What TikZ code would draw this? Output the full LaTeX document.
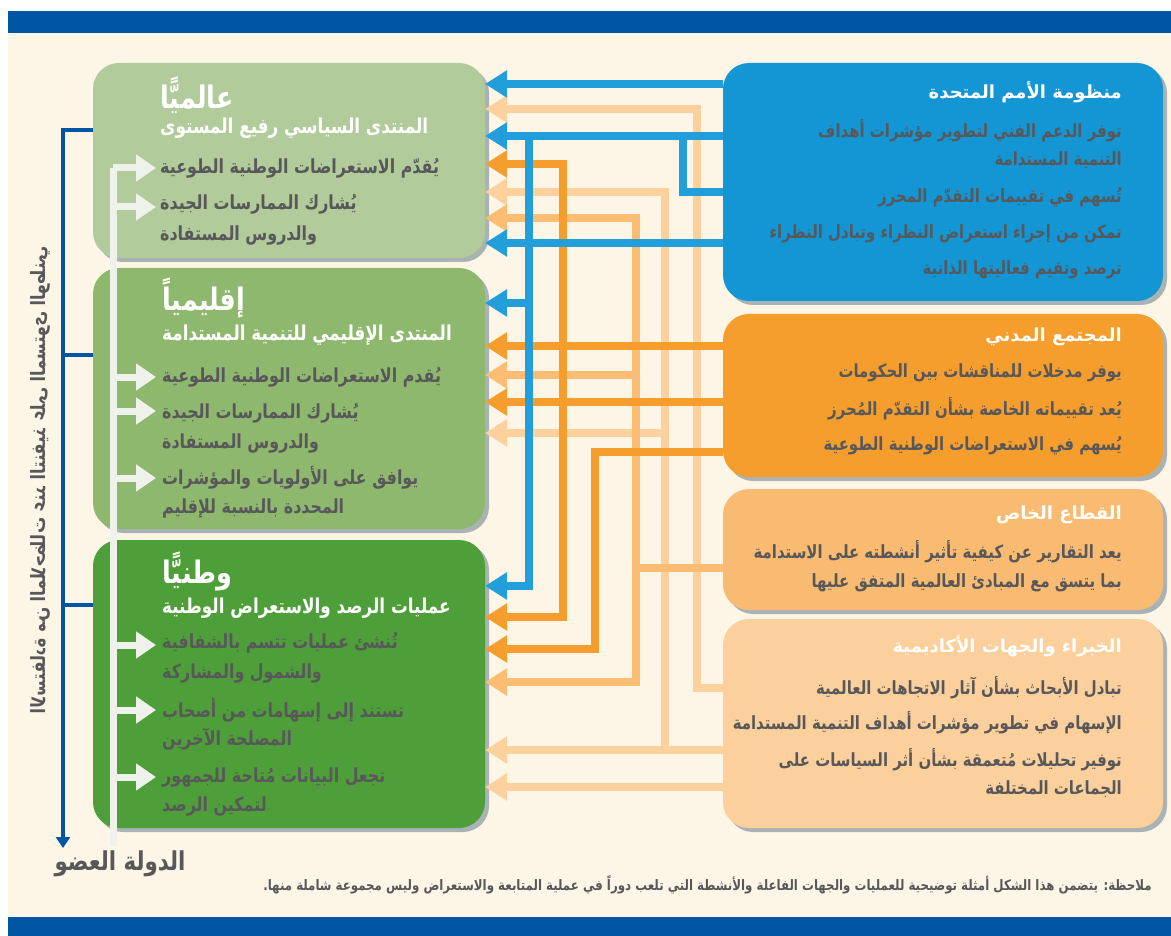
\documentclass[tikz,border=0pt]{standalone}
\usepackage{fontspec}
\usetikzlibrary{arrows.meta,shadows}
\TeXXeTstate=1
\newfontfamily\arf[Script=Arabic,FakeStretch=0.82]{DejaVu Sans}
\newfontfamily\arw[Script=Arabic]{DejaVu Sans}
\newcommand\RL[1]{\beginR#1\endR}
\definecolor{cream}{HTML}{FDF6E6}
\definecolor{darkblue}{HTML}{0055A5}
\definecolor{gA}{HTML}{B1CB9B}
\definecolor{gB}{HTML}{8FB86F}
\definecolor{gC}{HTML}{4E9F39}
\definecolor{unblue}{HTML}{1396D3}
\definecolor{blueline}{HTML}{229FDB}
\definecolor{orng}{HTML}{F59E2E}
\definecolor{mpch}{HTML}{FBBC73}
\definecolor{lpch}{HTML}{FDD19D}
\definecolor{psbox}{HTML}{F9BB71}
\definecolor{exbox}{HTML}{FCD09C}
\definecolor{shgray}{HTML}{A9B3B5}
\definecolor{txt}{HTML}{58585A}
\definecolor{wline}{HTML}{EEF2EA}
\tikzset{
  shd/.style={drop shadow={shadow xshift=4pt,shadow yshift=-4pt,opacity=1,fill=shgray}},
  lbox/.style={shd,rounded corners=26pt,minimum width=392pt,anchor=north west,inner sep=0pt,outer sep=0pt},
  rbox/.style={shd,rounded corners=26pt,minimum width=440pt,anchor=north west,inner sep=0pt,outer sep=0pt},
  ltitle/.style={font=\arf\bfseries\fontsize{31}{35}\selectfont,text=white,anchor=west,inner sep=0pt},
  lsub/.style={font=\arf\bfseries\fontsize{20.5}{24}\selectfont,text=white,anchor=west,inner sep=0pt},
  litem/.style={font=\arf\bfseries\fontsize{19.4}{22}\selectfont,text=txt,anchor=west,inner sep=0pt},
  rtitle/.style={font=\arw\bfseries\fontsize{18}{21}\selectfont,text=white,anchor=east,inner sep=0pt},
  ritem/.style={font=\arf\bfseries\fontsize{18.2}{21}\selectfont,text=txt,anchor=east,inner sep=0pt},
  conn/.style={line width=8pt,-{Triangle[length=22pt,width=26pt]}},
  plain/.style={line width=8pt},
  warr/.style={wline,line width=7pt,-{Triangle[length=20pt,width=26pt]}},
  bracket/.style={darkblue,line width=4pt},
}
\begin{document}
\begin{tikzpicture}[x=1pt,y=-1pt]
\useasboundingbox (0,0) rectangle (1171,936);
\fill[white] (0,0) rectangle (1171,936);
\fill[cream] (8,33) rectangle (1171,917);
\fill[darkblue] (8,11) rectangle (1171,33);
\fill[darkblue] (8,917) rectangle (1171,936);

% left boxes
\node[lbox,fill=gA,minimum height=195pt] (glob) at (93,63) {};
\node[lbox,fill=gB,minimum height=261pt] (reg) at (93,268) {};
\node[lbox,fill=gC,minimum height=288pt] (nat) at (93,540) {};

% right boxes
\node[rbox,fill=unblue,minimum height=238pt] (un) at (723,63) {};
\node[rbox,fill=orng,minimum height=163pt] (cs) at (723,314) {};
\node[rbox,fill=psbox,minimum height=121pt] (ps) at (723,489) {};
\node[rbox,fill=exbox,minimum height=209pt] (ex) at (723,619) {};

% junction coordinates
\coordinate (jL1) at (665,750);
\coordinate (jL2) at (665,433);
\coordinate (jM1) at (636,568);
\coordinate (jM2) at (636,375);
\coordinate (jB1) at (683,136);
\coordinate (jB2) at (529,136);
\coordinate (jB3) at (529,303);

% light peach
\draw[conn,lpch] (ex.west |- 0,688) -| (697,109) -- (glob.east |- 0,109);
\draw[conn,lpch] (ex.west |- 0,750) -- (nat.east |- 0,750);
\draw[conn,lpch] (jL1) |- (glob.east |- 0,192);
\draw[conn,lpch] (jL2) -- (reg.east |- 0,433);
\draw[conn,lpch] (ex.west |- 0,787) -- (nat.east |- 0,787);
% medium peach
\draw[conn,mpch] (ps.west |- 0,568) -| (636,682) -- (nat.east |- 0,682);
\draw[conn,mpch] (jM1) |- (glob.east |- 0,218);
\draw[conn,mpch] (jM2) -- (reg.east |- 0,375);
% orange
\draw[conn,orng] (cs.west |- 0,346) -- (reg.east |- 0,346);
\draw[conn,orng] (cs.west |- 0,402) -- (reg.east |- 0,402);
\draw[conn,orng] (cs.west |- 0,452) -| (595,649) -- (nat.east |- 0,649);
\draw[orng,line width=8pt,{Triangle[length=22pt,width=26pt]}-{Triangle[length=22pt,width=26pt]}] (glob.east |- 0,164) -| (563,617) -- (nat.east |- 0,617);
% blue
\draw[conn,blueline] (un.west |- 0,84) -- (glob.east |- 0,84);
\draw[conn,blueline] (un.west |- 0,136) -- (glob.east |- 0,136);
\draw[plain,blueline] (un.west |- 0,192) -| (jB1);
\draw[conn,blueline] (jB2) |- (nat.east |- 0,586);
\draw[conn,blueline] (jB3) -- (reg.east |- 0,303);
\draw[conn,blueline] (un.west |- 0,243) -- (glob.east |- 0,243);

% dark blue bracket
\draw[bracket,-{Triangle[length=11pt,width=14pt]}] (glob.west |- 0,130) -| (63,848);
\draw[bracket] (63,355) -- (reg.west |- 0,355);
\draw[bracket] (63,605) -- (nat.west |- 0,605);

% white arrows
\coordinate (wtop) at (113,168);
\coordinate (wbot) at (113,846);
\draw[wline,line width=7pt] (wtop) -- (wbot);
\foreach \yy in {168,207,377,411,478,645,710,777}
  \draw[warr] (113,\yy) -- (156,\yy);

% texts left
\node[ltitle] (gT) at (160,95) {\RL{عالميًّا}};
\node[lsub] (gS) at (160,128) {\RL{المنتدى السياسي رفيع المستوى}};
\node[litem] (g1) at (160,168) {\RL{يُقدّم الاستعراضات الوطنية الطوعية}};
\node[litem] (g2a) at (160,204) {\RL{يُشارك الممارسات الجيدة}};
\node[litem] (g2b) at (160,235) {\RL{والدروس المستفادة}};

\node[ltitle] (rT) at (162,298) {\RL{إقليمياً}};
\node[lsub] (rS) at (162,335) {\RL{المنتدى الإقليمي للتنمية المستدامة}};
\node[litem] (r1) at (162,377) {\RL{يُقدم الاستعراضات الوطنية الطوعية}};
\node[litem] (r2a) at (162,413) {\RL{يُشارك الممارسات الجيدة}};
\node[litem] (r2b) at (162,443) {\RL{والدروس المستفادة}};
\node[litem] (r3a) at (162,478) {\RL{يوافق على الأولويات والمؤشرات}};
\node[litem] (r3b) at (162,508) {\RL{المحددة بالنسبة للإقليم}};

\node[ltitle] (nT) at (162,571) {\RL{وطنيًّا}};
\node[lsub] (nS) at (162,608) {\RL{عمليات الرصد والاستعراض الوطنية}};
\node[litem] (n1a) at (162,643) {\RL{تُنشئ عمليات تتسم بالشفافية}};
\node[litem] (n1b) at (162,673) {\RL{والشمول والمشاركة}};
\node[litem] (n2a) at (162,710) {\RL{تستند إلى إسهامات من أصحاب}};
\node[litem] (n2b) at (162,739) {\RL{المصلحة الآخرين}};
\node[litem] (n3a) at (162,777) {\RL{تجعل البيانات مُتاحة للجمهور}};
\node[litem] (n3b) at (162,806) {\RL{لتمكين الرصد}};

% texts right
\node[rtitle] (unT) at (1122,92) {\RL{منظومة الأمم المتحدة}};
\node[ritem] (un1a) at (1122,131) {\RL{توفر الدعم الفني لتطوير مؤشرات أهداف}};
\node[ritem] (un1b) at (1122,160) {\RL{التنمية المستدامة}};
\node[ritem] (un2) at (1122,197) {\RL{تُسهم في تقييمات التقدّم المحرز}};
\node[ritem] (un3) at (1122,234) {\RL{تمكن من إجراء استعراض النظراء وتبادل النظراء}};
\node[ritem] (un4) at (1122,270) {\RL{ترصد وتقيم فعاليتها الذاتية}};

\node[rtitle] (csT) at (1122,337) {\RL{المجتمع المدني}};
\node[ritem] (cs1) at (1122,373) {\RL{يوفر مدخلات للمناقشات بين الحكومات}};
\node[ritem] (cs2) at (1122,409) {\RL{يُعد تقييماته الخاصة بشأن التقدّم المُحرز}};
\node[ritem] (cs3) at (1122,446) {\RL{يُسهم في الاستعراضات الوطنية الطوعية}};

\node[rtitle] (psT) at (1122,515) {\RL{القطاع الخاص}};
\node[ritem] (ps1a) at (1122,552) {\RL{يعد التقارير عن كيفية تأثير أنشطته على الاستدامة}};
\node[ritem] (ps1b) at (1122,583) {\RL{بما يتسق مع المبادئ العالمية المتفق عليها}};

\node[rtitle] (exT) at (1122,646) {\RL{الخبراء والجهات الأكاديمية}};
\node[ritem] (ex1) at (1122,688) {\RL{تبادل الأبحاث بشأن آثار الاتجاهات العالمية}};
\node[ritem] (ex2) at (1122,723) {\RL{الإسهام في تطوير مؤشرات أهداف التنمية المستدامة}};
\node[ritem] (ex3a) at (1122,760) {\RL{توفير تحليلات مُتعمقة بشأن أثر السياسات على}};
\node[ritem] (ex3b) at (1122,789) {\RL{الجماعات المختلفة}};

% side and bottom texts
\node[font=\arf\bfseries\fontsize{19.7}{23}\selectfont,text=txt,rotate=-90,yscale=-1,inner sep=0pt] (vt) at (40,480) {\RL{الاستفادة من الملاحظات عند التنفيذ على المستوى الوطني}};
\node[font=\arf\bfseries\fontsize{26}{31}\selectfont,text=txt,inner sep=0pt] (ms) at (120,864) {\RL{الدولة العضو}};
\node[font=\arf\bfseries\fontsize{14.4}{17}\selectfont,text=txt,anchor=east,inner sep=0pt] (note) at (1152,885) {\RL{ملاحظة: يتضمن هذا الشكل أمثلة توضيحية للعمليات والجهات الفاعلة والأنشطة التي تلعب دوراً في عملية المتابعة والاستعراض وليس مجموعة شاملة منها.}};
\end{tikzpicture}
\end{document}
